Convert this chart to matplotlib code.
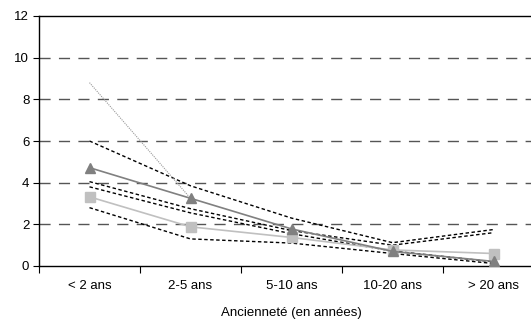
import numpy as np
import matplotlib.pyplot as plt

plt.rcParams['font.family'] = ['Liberation Sans', 'DejaVu Sans']

# data
categories = ['< 2 ans', '2-5 ans', '5-10 ans', '10-20 ans', '> 20 ans']
serie_tri = [4.72, 3.25, 1.78, 0.70, 0.22]
serie_carre = [3.32, 1.88, 1.37, 0.77, 0.60]
borne1 = [6.0, 3.85, 2.3, 1.12, 1.75]
borne2 = [4.05, 2.75, 1.7, 1.0, 1.6]
borne3 = [3.8, 2.55, 1.55, 0.72, 0.2]
borne4 = [2.8, 1.3, 1.1, 0.6, 0.12]
pointille = [8.8, 3.25, np.nan, np.nan, np.nan]

x = np.arange(len(categories))

fig = plt.figure(figsize=(5.31, 3.24), dpi=100)
ax = fig.add_axes([39/531, 58/324, 505/531, 250/324])

# grid lines
for g in [2, 4, 6, 8, 10]:
    ax.axhline(g, color='#555555', lw=1, dashes=(8, 6), zorder=1)

for b in [borne1, borne2, borne3, borne4]:
    ax.plot(x, b, color='black', lw=1, dashes=(2.5, 1.8), zorder=2)

ax.plot(x, pointille, color='#999999', lw=0.8, dashes=(1, 1), zorder=2)
ax.plot(x, serie_carre, color='#c0c0c0', lw=1.2, marker='s', ms=7,
        mfc='#c0c0c0', mec='#c0c0c0', zorder=3)
ax.plot(x, serie_tri, color='#808080', lw=1.2, marker='^', ms=7,
        mfc='#808080', mec='#808080', zorder=4)

ax.set_xlim(-0.5, 4.5)
ax.set_ylim(0, 12)
ax.set_yticks(range(0, 13, 2))
ax.set_xticks(np.arange(-0.5, 4.6, 1))
ax.set_xticklabels([])
ax.set_xticks(x, minor=True)
ax.set_xticklabels(categories, minor=True)
ax.tick_params(axis='x', which='minor', length=0, pad=10, labelsize=9.5)
ax.tick_params(axis='x', which='major', length=5, width=0.8, direction='out')
ax.tick_params(axis='y', length=4, width=0.8, direction='out', labelsize=9.5, pad=3)
ax.spines['right'].set_visible(False)
for s in ['left', 'bottom', 'top']:
    ax.spines[s].set_linewidth(1)
ax.set_xlabel('Ancienneté (en années)', fontsize=9.5, labelpad=11)

fig.savefig('out.png', dpi=100)
